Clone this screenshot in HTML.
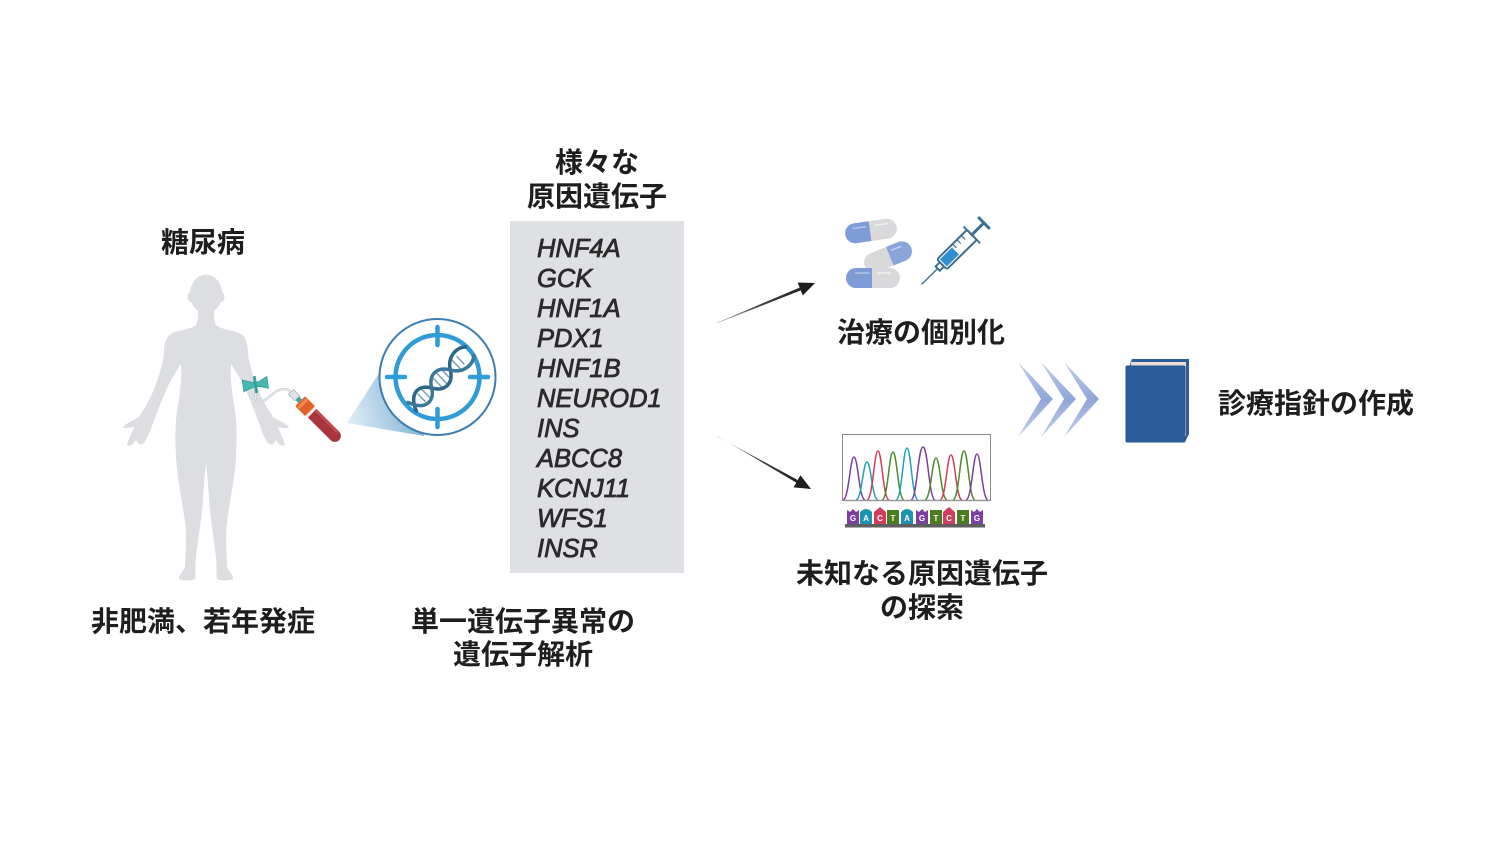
<!DOCTYPE html>
<html><head><meta charset="utf-8"><style>
html,body{margin:0;padding:0;background:#fff;}
svg{display:block;}
.jp{font-family:"Liberation Sans","Noto Sans CJK JP",sans-serif;font-weight:bold;font-size:28px;fill:#1e1e1e;}
.gene{font-family:"Liberation Sans",sans-serif;font-style:italic;font-size:25.5px;fill:#2b2b2b;stroke:#2b2b2b;stroke-width:0.8;}
.tg{font-family:"Liberation Sans",sans-serif;font-size:8px;fill:#fff;font-weight:bold;}
</style></head><body>
<svg width="1500" height="844" viewBox="0 0 1500 844" xmlns="http://www.w3.org/2000/svg">
<defs>
<linearGradient id="cone" x1="347" y1="423" x2="430" y2="400" gradientUnits="userSpaceOnUse">
<stop offset="0" stop-color="#e3eff8"/><stop offset="1" stop-color="#6fa8d2"/>
</linearGradient>
<linearGradient id="arr1" x1="717" y1="323" x2="800" y2="289" gradientUnits="userSpaceOnUse">
<stop offset="0" stop-color="#bbb"/><stop offset="0.5" stop-color="#444"/><stop offset="1" stop-color="#222"/>
</linearGradient>
<linearGradient id="arr2" x1="717" y1="436" x2="797" y2="481" gradientUnits="userSpaceOnUse">
<stop offset="0" stop-color="#bbb"/><stop offset="0.5" stop-color="#444"/><stop offset="1" stop-color="#222"/>
</linearGradient>
<linearGradient id="chev" x1="0" y1="362" x2="0" y2="437" gradientUnits="userSpaceOnUse">
<stop offset="0" stop-color="#c3d0ec"/><stop offset="0.5" stop-color="#8fa6d7"/><stop offset="1" stop-color="#c3d0ec"/>
</linearGradient>
</defs>

<!-- labels -->
<text class="jp" x="203" y="252" text-anchor="middle">糖尿病</text>
<text class="jp" x="597" y="172" text-anchor="middle">様々な</text>
<text class="jp" x="597" y="206" text-anchor="middle">原因遺伝子</text>
<text class="jp" x="203" y="631" text-anchor="middle">非肥満、若年発症</text>
<text class="jp" x="523" y="631" text-anchor="middle">単一遺伝子異常の</text>
<text class="jp" x="523" y="664" text-anchor="middle">遺伝子解析</text>
<text class="jp" x="921" y="342" text-anchor="middle">治療の個別化</text>
<text class="jp" x="1316" y="413" text-anchor="middle">診療指針の作成</text>
<text class="jp" x="922" y="583" text-anchor="middle">未知なる原因遺伝子</text>
<text class="jp" x="922" y="617" text-anchor="middle">の探索</text>

<!-- human silhouette -->
<g fill="#dddee2">
<ellipse cx="206" cy="294" rx="16" ry="19.5"/>
<ellipse cx="190.5" cy="297" rx="3" ry="5"/>
<ellipse cx="221.5" cy="297" rx="3" ry="5"/>
<path d="M 198 309 C 198 316 198 321 196 325 C 190 330 177 330 171 334 C 165 338 164 346 164 354 C 162 368 157 382 152 394 C 147 405 142 412 139 417 C 133 421 126 423 123 427 C 125 429 130 428 134 427 C 132 433 128 440 127 445 C 130 447 133 445 136 440 C 138 444 141 446 144 443 C 147 438 150 432 152 426 C 156 415 162 400 167 388 C 172 378 177 370 181 364 C 182 378 180 392 178 405 C 175 420 175 440 176 456 C 177 478 182 500 185 522 C 187 540 185 556 185 566 C 184 572 178 575 179 579 C 183 581 192 581 195 579 C 196 573 195 566 196 558 C 198 538 202 518 203 498 C 204 484 205 472 206 462 C 207 472 208 484 209 498 C 210 518 214 538 216 558 C 217 566 216 573 217 579 C 220 581 229 581 233 579 C 234 575 228 572 227 566 C 227 556 225 540 227 522 C 230 500 235 478 236 456 C 237 440 237 420 234 405 C 232 392 230 378 231 364 C 235 370 240 378 245 388 C 250 400 256 415 260 426 C 262 432 264 438 268 443 C 271 446 274 444 276 440 C 279 445 282 447 285 445 C 284 440 280 433 278 427 C 282 428 287 429 289 427 C 286 423 279 421 273 417 C 270 412 265 405 260 394 C 255 382 250 368 248 354 C 248 346 247 338 241 334 C 235 330 222 330 216 325 C 214 321 214 316 214 309 Z"/>
</g>

<!-- blood collection -->
<path d="M 256 391 C 254 398 256 404 262 402 C 270 398 276 388 285 389 C 290 390 292 393 293 396" fill="none" stroke="#b8bcc0" stroke-width="2.2"/>
<path d="M 256 391 C 254 398 256 404 262 402 C 270 398 276 388 285 389 C 290 390 292 393 293 396" fill="none" stroke="#f4f4f4" stroke-width="1"/>
<g transform="translate(256,385) rotate(-8)">
<path d="M -13 -7 L -3 -3 L 3 -3 L 12 -7 L 12 5 L 3 2 L -3 2 L -13 5 Z" fill="#45b7ae" stroke="#2f8f88" stroke-width="0.6"/>
<rect x="-2" y="-9" width="3" height="17" fill="#3aa49c"/>
</g>
<g transform="translate(291,392) rotate(45)">
<rect x="0" y="-3.5" width="9" height="7" fill="#dde3e6" stroke="#9aa5aa" stroke-width="0.6"/>
<rect x="9" y="-2.5" width="4" height="5" fill="#3aa49c"/>
<rect x="13" y="-7" width="14" height="14" rx="1" fill="#e0612a"/>
<rect x="15" y="-6" width="3" height="12" fill="#f08a4a"/>
<rect x="27" y="-6" width="3" height="12" fill="#f1e9e4"/>
<path d="M 30 -6 L 62 -6 A 6 6 0 0 1 62 6 L 30 6 Z" fill="#a8353c"/>
<rect x="30" y="-6" width="32" height="3" fill="#bf4a50"/>
</g>

<!-- cone + DNA target -->
<polygon points="347,423 390,356 437,378 424,436" fill="url(#cone)"/>
<circle cx="437.5" cy="377" r="58" fill="#fff" stroke="#3d7eb2" stroke-width="2"/>
<circle cx="437.5" cy="377" r="42" fill="none" stroke="#2f9bd7" stroke-width="4.5"/>
<g stroke="#2f9bd7" stroke-width="4.5" stroke-linecap="round">
<line x1="437.5" y1="327" x2="437.5" y2="345"/>
<line x1="437.5" y1="409" x2="437.5" y2="427"/>
<line x1="387" y1="377" x2="405" y2="377"/>
<line x1="470" y1="377" x2="488" y2="377"/>
</g>
<g transform="translate(441,379) rotate(-44)" fill="none" stroke-linecap="round">
<g stroke="#7fa3bd" stroke-width="1.6">
<line x1="-27" y1="-5" x2="-27" y2="5"/><line x1="-21" y1="-7" x2="-21" y2="7"/>
<line x1="-5" y1="-6" x2="-5" y2="6"/><line x1="1" y1="-7" x2="1" y2="7"/><line x1="7" y1="-6" x2="7" y2="6"/>
<line x1="21" y1="-7" x2="21" y2="7"/><line x1="27" y1="-5" x2="27" y2="5"/>
</g>
<path d="M -40 6 C -33 -12 -20 -12 -13 0 C -6 12 6 12 13 0 C 20 -12 33 -12 40 -6" stroke="#2c6688" stroke-width="3.5"/>
<path d="M -40 -6 C -33 12 -20 12 -13 0 C -6 -12 6 -12 13 0 C 20 12 33 12 40 6" stroke="#3b7798" stroke-width="3.5"/>
</g>

<!-- gene box -->
<rect x="510" y="221" width="174" height="352" fill="#dfe0e4"/>
<text class="gene" x="537" y="257">HNF4A</text>
<text class="gene" x="537" y="287">GCK</text>
<text class="gene" x="537" y="317">HNF1A</text>
<text class="gene" x="537" y="347">PDX1</text>
<text class="gene" x="537" y="377">HNF1B</text>
<text class="gene" x="537" y="407">NEUROD1</text>
<text class="gene" x="537" y="437">INS</text>
<text class="gene" x="537" y="467">ABCC8</text>
<text class="gene" x="537" y="497">KCNJ11</text>
<text class="gene" x="537" y="527">WFS1</text>
<text class="gene" x="537" y="557">INSR</text>

<!-- arrows -->
<polygon points="717,323.3 800.8,290.4 799.6,287.6 716.8,322.7" fill="url(#arr1)"/>
<polygon points="815,283 802.8,295.5 797.6,282.5" fill="#1e1e1e"/>
<polygon points="717,435.7 796.3,482.6 797.7,480 717,436.3" fill="url(#arr2)"/>
<polygon points="811,489 793.6,487.4 800.4,475.2" fill="#1e1e1e"/>

<!-- pills -->
<g transform="translate(888,257) rotate(-22)">
<rect x="-25" y="-10" width="50" height="20" rx="10" fill="#d9d9db"/>
<path d="M 2 -10 L 15 -10 A 10 10 0 0 1 15 10 L 2 10 Z" fill="#8aa5d9"/>
<line x1="5" y1="-5" x2="16" y2="-5" stroke="#c2d1ef" stroke-width="1.5"/>
</g>
<g transform="translate(871,231) rotate(-8)">
<rect x="-26" y="-10" width="52" height="20" rx="10" fill="#d9d9db"/>
<path d="M -1 -10 L -16 -10 A 10 10 0 0 0 -16 10 L -1 10 Z" fill="#7e9cd6"/>
<line x1="-18" y1="-5" x2="-4" y2="-5" stroke="#b5c6ea" stroke-width="1.5"/>
<line x1="4" y1="-5" x2="18" y2="-5" stroke="#f0f0f0" stroke-width="1.5"/>
</g>
<g transform="translate(873,278)">
<rect x="-27" y="-10" width="54" height="20" rx="10" fill="#d9d9db"/>
<path d="M -1 -10 L -17 -10 A 10 10 0 0 0 -17 10 L -1 10 Z" fill="#7e9cd6"/>
<line x1="-18" y1="-5" x2="-4" y2="-5" stroke="#b5c6ea" stroke-width="1.5"/>
<line x1="4" y1="-5" x2="18" y2="-5" stroke="#f0f0f0" stroke-width="1.5"/>
</g>

<!-- syringe -->
<g transform="translate(922,284) rotate(-44.6)" stroke="#3d6f8f" stroke-width="2" fill="none" stroke-linecap="round">
<line x1="0" y1="0" x2="22" y2="0" stroke-width="1.4"/>
<rect x="22" y="-3" width="6" height="6" fill="#fff"/>
<rect x="28" y="-7" width="42" height="14" rx="2" fill="#fff"/>
<rect x="30" y="-5" width="17" height="10" fill="#2f8fd0" stroke="none"/>
<line x1="50" y1="-7" x2="50" y2="-2" stroke-width="1.2"/>
<line x1="56" y1="-7" x2="56" y2="-2" stroke-width="1.2"/>
<line x1="62" y1="-7" x2="62" y2="-2" stroke-width="1.2"/>
<line x1="70" y1="-11" x2="70" y2="11"/>
<line x1="70" y1="0" x2="86" y2="0" stroke-width="3"/>
<line x1="87" y1="-7" x2="87" y2="7" stroke-width="3"/>
</g>

<!-- chromatogram -->
<rect x="842.5" y="434.5" width="148" height="66" fill="#fff" stroke="#8a8a8a" stroke-width="1"/>
<g fill="none" stroke-width="1.5">
<path d="M 843 500 C 849 499 850 457 854 457 C 858 457 859 499 865 500" stroke="#7c3fa2"/>
<path d="M 856 500 C 862 499 863 462 867 462 C 871 462 872 499 878 500" stroke="#1ea2b8"/>
<path d="M 867 500 C 873 499 874 451 878 451 C 882 451 883 499 889 500" stroke="#d33c5c"/>
<path d="M 882 500 C 888 499 889 452 893 452 C 897 452 898 499 904 500" stroke="#4b8b2b"/>
<path d="M 896 500 C 902 499 903 448 907 448 C 911 448 912 499 918 500" stroke="#1ea2b8"/>
<path d="M 911 500 C 917 499 918 447 923 447 C 928 447 929 499 935 500" stroke="#7c3fa2"/>
<path d="M 925 500 C 931 499 932 458 936 458 C 940 458 941 499 947 500" stroke="#4b8b2b"/>
<path d="M 940 500 C 946 499 947 455 951 455 C 955 455 956 499 962 500" stroke="#d33c5c"/>
<path d="M 953 500 C 959 499 960 451 964 451 C 968 451 969 499 975 500" stroke="#4b8b2b"/>
<path d="M 966 500 C 972 499 973 454 977 454 C 981 454 982 499 988 500" stroke="#7c3fa2"/>
</g>
<line x1="843" y1="500.5" x2="990" y2="500.5" stroke="#9a9a9a" stroke-width="1.5"/>
<!-- base tags -->
<g>
<path d="M 847 510 L 850 512 L 853 509 L 856 512 L 859 510 L 859 524 L 847 524 Z" fill="#7c3fa2"/>
<path d="M 860 512 Q 866 506 872 512 L 872 524 L 860 524 Z" fill="#1e93b0"/>
<path d="M 874 512 L 880 507 L 886 512 L 886 524 L 874 524 Z" fill="#d33c5c"/>
<rect x="887" y="510" width="12" height="14" fill="#4b7d1e"/>
<path d="M 901 512 Q 907 506 913 512 L 913 524 L 901 524 Z" fill="#1e93b0"/>
<path d="M 916 510 L 919 512 L 922 509 L 925 512 L 928 510 L 928 524 L 916 524 Z" fill="#7c3fa2"/>
<rect x="930" y="510" width="12" height="14" fill="#4b7d1e"/>
<path d="M 943 512 L 949 507 L 955 512 L 955 524 L 943 524 Z" fill="#d33c5c"/>
<rect x="957" y="510" width="12" height="14" fill="#4b7d1e"/>
<path d="M 971 510 L 974 512 L 977 509 L 980 512 L 983 510 L 983 524 L 971 524 Z" fill="#7c3fa2"/>
</g>
<g class="tg" text-anchor="middle">
<text x="853" y="521">G</text><text x="866" y="521">A</text><text x="880" y="521">C</text><text x="893" y="521">T</text><text x="907" y="521">A</text>
<text x="922" y="521">G</text><text x="936" y="521">T</text><text x="949" y="521">C</text><text x="963" y="521">T</text><text x="977" y="521">G</text>
</g>
<rect x="845" y="524" width="140" height="3.5" fill="#5e5e5e"/>

<!-- chevrons -->
<g fill="url(#chev)">
<polygon points="1018,362 1053,399 1018,437 1041,399"/>
<polygon points="1041,362 1076,399 1041,437 1064,399"/>
<polygon points="1064,362 1099,399 1064,437 1087,399"/>
</g>

<!-- book -->
<path d="M 1132 359 L 1189 359 L 1189 434 L 1185 442 L 1130 442 L 1130 364 Z" fill="#2b5d9a"/>
<path d="M 1131 362 L 1186 362 L 1186 436 L 1183 440 L 1130 440 Z" fill="#eedcd4"/>
<rect x="1126" y="366" width="59" height="76" rx="1.5" fill="#2b5d9a" stroke="#24528a" stroke-width="1"/>
</svg>
</body></html>
